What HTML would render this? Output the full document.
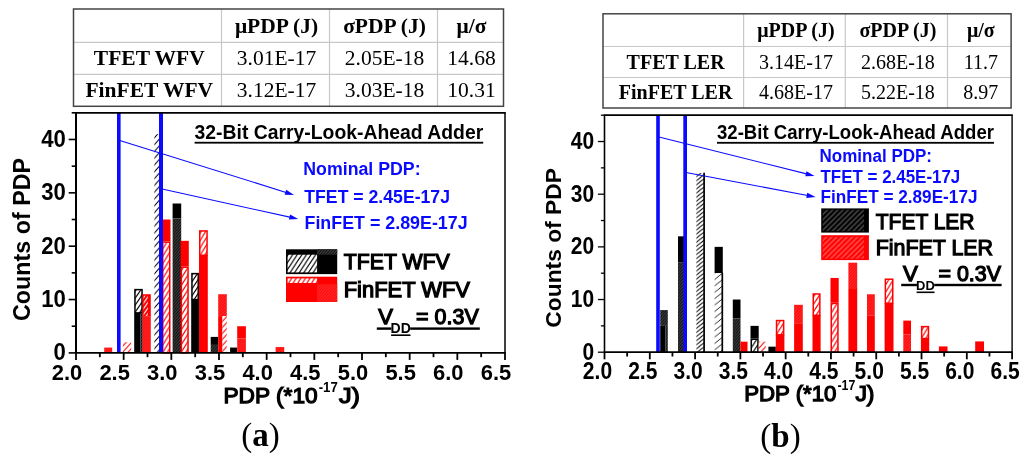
<!DOCTYPE html>
<html lang="en"><head><meta charset="utf-8"><title>PDP histograms</title>
<style>
html,body{margin:0;padding:0;background:#fff;}
body{width:1024px;height:463px;overflow:hidden;}
svg{display:block;}
.s{font-family:"Liberation Sans", Arial, sans-serif;}
.t{font-family:"Liberation Serif", "Times New Roman", serif;}
.b{font-weight:bold;}
.m{font-weight:normal;stroke:#000;stroke-width:1.25px;stroke-linejoin:miter;}
</style></head><body>
<svg width="1024" height="463" viewBox="0 0 1024 463">
<defs>
<pattern id="hbk" patternUnits="userSpaceOnUse" width="4.6" height="7">
<rect x="0" y="0" width="4.6" height="7" fill="#fff"/>
<path d="M-4.6,7 L4.6,-7 M-4.6,14 L9.2,-7 M0,14 L9.2,0" stroke="#000" stroke-width="1.2" fill="none"/>
</pattern>
<pattern id="hbr" patternUnits="userSpaceOnUse" width="4.6" height="7.4">
<rect x="0" y="0" width="4.6" height="7.4" fill="#fff"/>
<path d="M-4.6,7.4 L4.6,-7.4 M-4.6,14.8 L9.2,-7.4 M0,14.8 L9.2,0" stroke="#ff0000" stroke-width="1.15" fill="none"/>
</pattern>
<pattern id="hwr" patternUnits="userSpaceOnUse" width="4" height="5.6">
<rect x="0" y="0" width="4" height="5.6" fill="#ff0000"/>
<path d="M-4,5.6 L4,-5.6 M-4,11.2 L8,-5.6 M0,11.2 L8,0" stroke="#fff" stroke-width="1.1" fill="none"/>
</pattern>
<pattern id="hnk" patternUnits="userSpaceOnUse" width="6" height="6.8">
<rect x="0" y="0" width="6" height="6.8" fill="#fff"/>
<path d="M-6,6.8 L6,-6.8 M-6,13.6 L12,-6.8 M0,13.6 L12,0" stroke="#000" stroke-width="1.05" fill="none"/>
</pattern>
<pattern id="hrk" patternUnits="userSpaceOnUse" width="5.2" height="4.1">
<rect x="0" y="0" width="5.2" height="4.1" fill="#fff"/>
<path d="M-5.2,4.1 L5.2,-4.1 M-5.2,8.2 L10.4,-4.1 M0,8.2 L10.4,0" stroke="#000" stroke-width="1" fill="none"/>
</pattern>
<pattern id="hsk" patternUnits="userSpaceOnUse" width="8" height="6.4">
<rect x="0" y="0" width="8" height="6.4" fill="#fff"/>
<path d="M-8,6.4 L8,-6.4 M-8,12.8 L16,-6.4 M0,12.8 L16,0" stroke="#000" stroke-width="0.85" fill="none"/>
</pattern>
<pattern id="hnr" patternUnits="userSpaceOnUse" width="5.5" height="6">
<rect x="0" y="0" width="5.5" height="6" fill="#fff"/>
<path d="M-5.5,6 L5.5,-6 M-5.5,12 L11,-6 M0,12 L11,0" stroke="#ff0000" stroke-width="1.1" fill="none"/>
</pattern>
<pattern id="hdk" patternUnits="userSpaceOnUse" width="2.8" height="3.2">
<rect x="0" y="0" width="2.8" height="3.2" fill="#4c4c4c"/>
<path d="M-2.8,3.2 L2.8,-3.2 M-2.8,6.4 L5.6,-3.2 M0,6.4 L5.6,0" stroke="#000" stroke-width="1" fill="none"/>
</pattern>
<pattern id="hdr" patternUnits="userSpaceOnUse" width="2.8" height="3.2">
<rect x="0" y="0" width="2.8" height="3.2" fill="#ff3030"/>
<path d="M-2.8,3.2 L2.8,-3.2 M-2.8,6.4 L5.6,-3.2 M0,6.4 L5.6,0" stroke="#ff0000" stroke-width="1" fill="none"/>
</pattern>
<pattern id="lgk" patternUnits="userSpaceOnUse" width="5.2" height="5.2">
<rect x="0" y="0" width="5.2" height="5.2" fill="#444444"/>
<path d="M-5.2,5.2 L5.2,-5.2 M-5.2,10.4 L10.4,-5.2 M0,10.4 L10.4,0" stroke="#000" stroke-width="2" fill="none"/>
</pattern>
<pattern id="lgr" patternUnits="userSpaceOnUse" width="5.2" height="5.2">
<rect x="0" y="0" width="5.2" height="5.2" fill="#ff4a4a"/>
<path d="M-5.2,5.2 L5.2,-5.2 M-5.2,10.4 L10.4,-5.2 M0,10.4 L10.4,0" stroke="#ff0000" stroke-width="2" fill="none"/>
</pattern>
</defs>
<rect x="0" y="0" width="1024" height="463" fill="#fff"/>
<line x1="221.5" y1="9" x2="221.5" y2="106.3" stroke="#c8c8c8" stroke-width="1.2"/>
<line x1="329.5" y1="9" x2="329.5" y2="106.3" stroke="#c8c8c8" stroke-width="1.2"/>
<line x1="437.5" y1="9" x2="437.5" y2="106.3" stroke="#c8c8c8" stroke-width="1.2"/>
<line x1="73.5" y1="42.3" x2="503.5" y2="42.3" stroke="#c8c8c8" stroke-width="1.2"/>
<line x1="73.5" y1="74.3" x2="503.5" y2="74.3" stroke="#c8c8c8" stroke-width="1.2"/>
<rect x="73.5" y="9" width="430" height="97.3" fill="none" stroke="#444" stroke-width="1.5"/>
<text class="t b" x="276.5" y="32.745" font-size="21.5" text-anchor="middle">μPDP (J)</text>
<text class="t b" x="384.5" y="32.745" font-size="21.5" text-anchor="middle">σPDP (J)</text>
<text class="t b" x="471.5" y="32.745" font-size="21.5" text-anchor="middle">μ/σ</text>
<text class="t b" x="149.3" y="65.395" font-size="21.5" text-anchor="middle">TFET WFV</text>
<text class="t" x="276.5" y="65.395" font-size="21.5" text-anchor="middle">3.01E-17</text>
<text class="t" x="384.5" y="65.395" font-size="21.5" text-anchor="middle">2.05E-18</text>
<text class="t" x="471.5" y="65.395" font-size="21.5" text-anchor="middle">14.68</text>
<text class="t b" x="149.3" y="97.395" font-size="21.5" text-anchor="middle">FinFET WFV</text>
<text class="t" x="276.5" y="97.395" font-size="21.5" text-anchor="middle">3.12E-17</text>
<text class="t" x="384.5" y="97.395" font-size="21.5" text-anchor="middle">3.03E-18</text>
<text class="t" x="471.5" y="97.395" font-size="21.5" text-anchor="middle">10.31</text>
<rect x="104.2" y="347.564" width="8" height="5.33556" fill="url(#hdr)"/>
<rect x="122.8" y="342.229" width="8.4" height="10.6711" fill="url(#hnr)"/>
<rect x="134.95" y="289.623" width="7.1" height="23.26" fill="url(#hbk)" stroke="#000" stroke-width="1.5"/>
<rect x="134.2" y="312.883" width="6.4" height="40.0167" fill="#000"/>
<rect x="140.6" y="312.883" width="2.2" height="40.0167" fill="url(#hdk)"/>
<rect x="142.4" y="294.209" width="8.4" height="21.8758" fill="#ff0000"/>
<rect x="143.6" y="295.709" width="4.2" height="20.3758" fill="url(#hwr)"/>
<rect x="142.4" y="316.085" width="8.4" height="36.8153" fill="url(#hdr)"/>
<rect x="154.4" y="134.142" width="6" height="218.758" fill="url(#hnk)"/>
<rect x="162" y="219.511" width="8.5" height="21.8758" fill="#ff0000"/>
<rect x="162.75" y="242.137" width="7" height="110.763" fill="url(#hbr)" stroke="#ff0000" stroke-width="1.5"/>
<rect x="172.6" y="203.504" width="8.6" height="14.9396" fill="#000"/>
<rect x="172.6" y="218.444" width="8.6" height="134.456" fill="url(#hdk)"/>
<rect x="180.6" y="240.853" width="8.2" height="25.6107" fill="#ff0000"/>
<rect x="181.35" y="267.214" width="6.7" height="85.686" fill="url(#hbr)" stroke="#ff0000" stroke-width="1.5"/>
<rect x="191.95" y="273.617" width="6.3" height="25.9278" fill="url(#hbk)" stroke="#000" stroke-width="1.5"/>
<rect x="191.2" y="299.544" width="7.8" height="53.3556" fill="#000"/>
<rect x="199.75" y="230.932" width="7.3" height="24.3271" fill="url(#hbr)" stroke="#ff0000" stroke-width="1.5"/>
<rect x="199" y="255.259" width="8.8" height="97.6407" fill="#ff0000"/>
<rect x="210.7" y="336.893" width="7.5" height="8.00333" fill="#000"/>
<rect x="210.7" y="344.897" width="7.5" height="8.00333" fill="url(#hdk)"/>
<rect x="218.2" y="294.209" width="8.6" height="21.8758" fill="url(#hdr)"/>
<rect x="218.2" y="316.085" width="4.3" height="36.8153" fill="#ff0000"/>
<rect x="222.5" y="316.085" width="4.3" height="36.8153" fill="url(#hnr)"/>
<rect x="230.1" y="347.564" width="7.1" height="5.33556" fill="#000"/>
<rect x="237.2" y="326.222" width="8.7" height="12.2718" fill="#ff0000"/>
<rect x="237.2" y="338.494" width="8.7" height="14.406" fill="url(#hdr)"/>
<rect x="275.6" y="347.031" width="8.6" height="5.86911" fill="url(#hdr)"/>
<rect x="117" y="112.8" width="3.6" height="240.1" fill="#0a0aff"/>
<rect x="159" y="112.8" width="4" height="240.1" fill="#0a0aff"/>
<line x1="119" y1="140.2" x2="290" y2="193.65" stroke="#0a0aff" stroke-width="1.1"/>
<polygon points="294,194.9 284.634,194.697 286.186,189.733" fill="#0a0aff"/>
<line x1="161" y1="188.8" x2="294.3" y2="218.12" stroke="#0a0aff" stroke-width="1.1"/>
<polygon points="298.3,219 288.952,219.606 290.069,214.527" fill="#0a0aff"/>
<line x1="75" y1="112.8" x2="505.75" y2="112.8" stroke="#000" stroke-width="1.7"/>
<line x1="505" y1="112.8" x2="505" y2="352.9" stroke="#000" stroke-width="1.5"/>
<line x1="75" y1="352.9" x2="505.75" y2="352.9" stroke="#000" stroke-width="1.8"/>
<line x1="76" y1="112.8" x2="76" y2="352.9" stroke="#000" stroke-width="2"/>
<line x1="76" y1="352.9" x2="76" y2="359.9" stroke="#000" stroke-width="1.8"/>
<text class="s b" x="51.7587" y="380.4" font-size="21.5" textLength="30.4827" lengthAdjust="spacingAndGlyphs">2.0</text>
<line x1="99.8333" y1="352.9" x2="99.8333" y2="357.2" stroke="#000" stroke-width="1.8"/>
<line x1="123.667" y1="352.9" x2="123.667" y2="359.9" stroke="#000" stroke-width="1.8"/>
<text class="s b" x="99.4253" y="380.4" font-size="21.5" textLength="30.4827" lengthAdjust="spacingAndGlyphs">2.5</text>
<line x1="147.5" y1="352.9" x2="147.5" y2="357.2" stroke="#000" stroke-width="1.8"/>
<line x1="171.333" y1="352.9" x2="171.333" y2="359.9" stroke="#000" stroke-width="1.8"/>
<text class="s b" x="147.092" y="380.4" font-size="21.5" textLength="30.4827" lengthAdjust="spacingAndGlyphs">3.0</text>
<line x1="195.167" y1="352.9" x2="195.167" y2="357.2" stroke="#000" stroke-width="1.8"/>
<line x1="219" y1="352.9" x2="219" y2="359.9" stroke="#000" stroke-width="1.8"/>
<text class="s b" x="194.759" y="380.4" font-size="21.5" textLength="30.4827" lengthAdjust="spacingAndGlyphs">3.5</text>
<line x1="242.833" y1="352.9" x2="242.833" y2="357.2" stroke="#000" stroke-width="1.8"/>
<line x1="266.667" y1="352.9" x2="266.667" y2="359.9" stroke="#000" stroke-width="1.8"/>
<text class="s b" x="242.425" y="380.4" font-size="21.5" textLength="30.4827" lengthAdjust="spacingAndGlyphs">4.0</text>
<line x1="290.5" y1="352.9" x2="290.5" y2="357.2" stroke="#000" stroke-width="1.8"/>
<line x1="314.333" y1="352.9" x2="314.333" y2="359.9" stroke="#000" stroke-width="1.8"/>
<text class="s b" x="290.092" y="380.4" font-size="21.5" textLength="30.4827" lengthAdjust="spacingAndGlyphs">4.5</text>
<line x1="338.167" y1="352.9" x2="338.167" y2="357.2" stroke="#000" stroke-width="1.8"/>
<line x1="362" y1="352.9" x2="362" y2="359.9" stroke="#000" stroke-width="1.8"/>
<text class="s b" x="337.759" y="380.4" font-size="21.5" textLength="30.4827" lengthAdjust="spacingAndGlyphs">5.0</text>
<line x1="385.833" y1="352.9" x2="385.833" y2="357.2" stroke="#000" stroke-width="1.8"/>
<line x1="409.667" y1="352.9" x2="409.667" y2="359.9" stroke="#000" stroke-width="1.8"/>
<text class="s b" x="385.425" y="380.4" font-size="21.5" textLength="30.4827" lengthAdjust="spacingAndGlyphs">5.5</text>
<line x1="433.5" y1="352.9" x2="433.5" y2="357.2" stroke="#000" stroke-width="1.8"/>
<line x1="457.333" y1="352.9" x2="457.333" y2="359.9" stroke="#000" stroke-width="1.8"/>
<text class="s b" x="433.092" y="380.4" font-size="21.5" textLength="30.4827" lengthAdjust="spacingAndGlyphs">6.0</text>
<line x1="481.167" y1="352.9" x2="481.167" y2="357.2" stroke="#000" stroke-width="1.8"/>
<line x1="505" y1="352.9" x2="505" y2="359.9" stroke="#000" stroke-width="1.8"/>
<text class="s b" x="480.759" y="380.4" font-size="21.5" textLength="30.4827" lengthAdjust="spacingAndGlyphs">6.5</text>
<line x1="68.7" y1="352.9" x2="76" y2="352.9" stroke="#000" stroke-width="1.6"/>
<text class="s b" x="53.5951" y="360.492" font-size="24.7" textLength="12.3049" lengthAdjust="spacingAndGlyphs">0</text>
<line x1="71.7" y1="326.222" x2="76" y2="326.222" stroke="#000" stroke-width="1.6"/>
<line x1="68.7" y1="299.544" x2="76" y2="299.544" stroke="#000" stroke-width="1.6"/>
<text class="s b" x="41.2901" y="307.136" font-size="24.7" textLength="24.6099" lengthAdjust="spacingAndGlyphs">10</text>
<line x1="71.7" y1="272.867" x2="76" y2="272.867" stroke="#000" stroke-width="1.6"/>
<line x1="68.7" y1="246.189" x2="76" y2="246.189" stroke="#000" stroke-width="1.6"/>
<text class="s b" x="41.2901" y="253.781" font-size="24.7" textLength="24.6099" lengthAdjust="spacingAndGlyphs">20</text>
<line x1="71.7" y1="219.511" x2="76" y2="219.511" stroke="#000" stroke-width="1.6"/>
<line x1="68.7" y1="192.833" x2="76" y2="192.833" stroke="#000" stroke-width="1.6"/>
<text class="s b" x="41.2901" y="200.425" font-size="24.7" textLength="24.6099" lengthAdjust="spacingAndGlyphs">30</text>
<line x1="71.7" y1="166.156" x2="76" y2="166.156" stroke="#000" stroke-width="1.6"/>
<line x1="68.7" y1="139.478" x2="76" y2="139.478" stroke="#000" stroke-width="1.6"/>
<text class="s b" x="41.2901" y="147.07" font-size="24.7" textLength="24.6099" lengthAdjust="spacingAndGlyphs">40</text>
<line x1="71.7" y1="112.8" x2="76" y2="112.8" stroke="#000" stroke-width="1.6"/>
<text class="s b" transform="translate(29.5,239.5) rotate(-90)" font-size="23.3" text-anchor="middle">Counts of PDP</text>
<text class="s m" x="223.5" y="402.8" font-size="22" textLength="94.1" lengthAdjust="spacingAndGlyphs">PDP (*10</text>
<text class="s b" x="318.7" y="391.8" font-size="14.52" textLength="19.1" lengthAdjust="spacingAndGlyphs">-17</text>
<text class="s m" x="338.9" y="402.8" font-size="22" textLength="21" lengthAdjust="spacingAndGlyphs">J)</text>
<text class="s b" x="194.6" y="138.6" font-size="19.4" textLength="288.6" lengthAdjust="spacingAndGlyphs">32-Bit Carry-Look-Ahead Adder</text>
<rect x="194.6" y="141.8" width="288.6" height="1.8" fill="#000"/>
<text class="s b" x="303.3" y="175" font-size="18" fill="#0a0aff" textLength="117.3" lengthAdjust="spacingAndGlyphs">Nominal PDP:</text>
<text class="s b" x="304.3" y="203.4" font-size="18" fill="#0a0aff" textLength="145.7" lengthAdjust="spacingAndGlyphs">TFET = 2.45E-17J</text>
<text class="s b" x="304.5" y="229.3" font-size="18" fill="#0a0aff" textLength="163.1" lengthAdjust="spacingAndGlyphs">FinFET = 2.89E-17J</text>
<text class="s m" x="343.7" y="268.6" font-size="21.6" textLength="106" lengthAdjust="spacingAndGlyphs">TFET WFV</text>
<text class="s m" x="343.7" y="296.5" font-size="21.6" textLength="126.3" lengthAdjust="spacingAndGlyphs">FinFET WFV</text>
<text class="s m" x="378.3" y="324.1" font-size="22">V</text>
<text class="s b" x="390.6" y="332.7" font-size="13.7119" textLength="20.2" lengthAdjust="spacingAndGlyphs">DD</text>
<text class="s m" x="416.1" y="324.1" font-size="22" textLength="62.6" lengthAdjust="spacingAndGlyphs">= 0.3V</text>
<rect x="376.8" y="327.4" width="14.6" height="2.4" fill="#000"/>
<rect x="391.1" y="334.4" width="19.4" height="1.6" fill="#000"/>
<rect x="410.2" y="327.4" width="69.6" height="2.4" fill="#000"/>
<text class="t" x="260.5" y="446.3" font-size="33" text-anchor="middle">(<tspan class="b">a</tspan>)</text>
<rect x="286" y="249.3" width="51.2" height="24.8" fill="#000"/>
<rect x="287.6" y="254.7" width="29.5" height="17.7" fill="url(#hbk)"/>
<rect x="317.1" y="249.3" width="20.1" height="5.4" fill="url(#hdk)"/>
<rect x="286" y="276.7" width="51.2" height="25.3" fill="#ff0000"/>
<rect x="287.6" y="278.4" width="29.5" height="4.6" fill="url(#hbr)"/>
<rect x="317.1" y="284.3" width="20.1" height="17.7" fill="url(#hdr)"/>
<line x1="743.6" y1="13.8" x2="743.6" y2="108" stroke="#c8c8c8" stroke-width="1.2"/>
<line x1="845.3" y1="13.8" x2="845.3" y2="108" stroke="#c8c8c8" stroke-width="1.2"/>
<line x1="947.5" y1="13.8" x2="947.5" y2="108" stroke="#c8c8c8" stroke-width="1.2"/>
<line x1="603" y1="46.5" x2="1011.1" y2="46.5" stroke="#c8c8c8" stroke-width="1.2"/>
<line x1="603" y1="77.5" x2="1011.1" y2="77.5" stroke="#c8c8c8" stroke-width="1.2"/>
<rect x="603" y="13.8" width="408.1" height="94.2" fill="none" stroke="#444" stroke-width="1.5"/>
<text class="t b" x="795.95" y="36.75" font-size="20" text-anchor="middle">μPDP (J)</text>
<text class="t b" x="897.9" y="36.75" font-size="20" text-anchor="middle">σPDP (J)</text>
<text class="t b" x="980.8" y="36.75" font-size="20" text-anchor="middle">μ/σ</text>
<text class="t b" x="675.6" y="68.6" font-size="20" text-anchor="middle">TFET LER</text>
<text class="t" x="795.95" y="68.6" font-size="20" text-anchor="middle">3.14E-17</text>
<text class="t" x="897.9" y="68.6" font-size="20" text-anchor="middle">2.68E-18</text>
<text class="t" x="980.8" y="68.6" font-size="20" text-anchor="middle">11.7</text>
<text class="t b" x="675.6" y="99.35" font-size="20" text-anchor="middle">FinFET LER</text>
<text class="t" x="795.95" y="99.35" font-size="20" text-anchor="middle">4.68E-17</text>
<text class="t" x="897.9" y="99.35" font-size="20" text-anchor="middle">5.22E-18</text>
<text class="t" x="980.8" y="99.35" font-size="20" text-anchor="middle">8.97</text>
<rect x="660.2" y="310.067" width="7.6" height="15.8" fill="url(#hdk)"/>
<rect x="660.2" y="325.867" width="5.4" height="26.3333" fill="#000"/>
<rect x="665.6" y="325.867" width="2.2" height="26.3333" fill="url(#hdk)"/>
<rect x="678" y="236.333" width="8" height="26.3333" fill="#000"/>
<rect x="678" y="262.667" width="8" height="89.5333" fill="url(#hdk)"/>
<rect x="696.4" y="173.133" width="8.2" height="179.067" fill="url(#hrk)"/>
<line x1="704.1" y1="172.633" x2="704.1" y2="352.2" stroke="#000" stroke-width="1.7"/>
<rect x="714.6" y="246.867" width="8.2" height="26.3333" fill="#000"/>
<rect x="714.6" y="273.2" width="8.2" height="79" fill="url(#hsk)"/>
<line x1="722.3" y1="272.7" x2="722.3" y2="352.2" stroke="#000" stroke-width="1.7"/>
<rect x="732.8" y="299.533" width="7.7" height="18.96" fill="#000"/>
<rect x="732.8" y="318.493" width="7.7" height="33.7067" fill="url(#hdk)"/>
<rect x="740.5" y="341.667" width="7" height="10.5333" fill="#ff0000"/>
<rect x="750.5" y="325.867" width="8.2" height="12.64" fill="#000"/>
<rect x="751.25" y="339.257" width="6.7" height="12.9433" fill="url(#hbk)" stroke="#000" stroke-width="1.5"/>
<rect x="758.7" y="341.667" width="7.1" height="10.5333" fill="url(#hnr)"/>
<rect x="768.4" y="346.67" width="7.4" height="5.53" fill="#000"/>
<rect x="776.55" y="320.56" width="7.1" height="14.26" fill="url(#hbr)" stroke="#ff0000" stroke-width="1.5"/>
<rect x="775.8" y="334.82" width="8.6" height="17.38" fill="#ff0000"/>
<rect x="794.1" y="304.8" width="8.7" height="18.4333" fill="url(#hdr)"/>
<rect x="794.1" y="323.233" width="8.7" height="28.9667" fill="#ff0000"/>
<rect x="813.25" y="293.963" width="6.6" height="21.37" fill="url(#hbr)" stroke="#ff0000" stroke-width="1.5"/>
<rect x="812.5" y="315.333" width="8.1" height="36.8667" fill="#ff0000"/>
<rect x="830.5" y="277.94" width="8.2" height="24.7533" fill="#ff0000"/>
<rect x="831.25" y="303.443" width="6.7" height="48.7567" fill="url(#hbr)" stroke="#ff0000" stroke-width="1.5"/>
<rect x="848.4" y="262.667" width="8.8" height="26.3333" fill="url(#hdr)"/>
<rect x="848.4" y="289" width="8.8" height="63.2" fill="#ff0000"/>
<rect x="867" y="294.267" width="7.8" height="21.0667" fill="url(#hdr)"/>
<rect x="867" y="315.333" width="7.8" height="36.8667" fill="#ff0000"/>
<rect x="885.35" y="279.217" width="7.4" height="24.0033" fill="url(#hbr)" stroke="#ff0000" stroke-width="1.5"/>
<rect x="884.6" y="303.22" width="8.9" height="48.98" fill="#ff0000"/>
<rect x="903.3" y="320.6" width="7.7" height="13.6933" fill="#ff0000"/>
<rect x="903.3" y="334.293" width="7.7" height="17.9067" fill="url(#hdr)"/>
<rect x="921.65" y="326.617" width="6.8" height="11.89" fill="url(#hbr)" stroke="#ff0000" stroke-width="1.5"/>
<rect x="920.9" y="338.507" width="8.3" height="13.6933" fill="#ff0000"/>
<rect x="938.9" y="346.407" width="8.6" height="5.79333" fill="#ff0000"/>
<rect x="975.2" y="341.403" width="8.8" height="10.7967" fill="#ff0000"/>
<rect x="656.2" y="115.2" width="3.6" height="237" fill="#0a0aff"/>
<rect x="683.3" y="115.2" width="3.7" height="237" fill="#0a0aff"/>
<line x1="658" y1="136.8" x2="810.6" y2="174.901" stroke="#0a0aff" stroke-width="1.1"/>
<polygon points="814.6,175.9 805.238,176.242 806.498,171.197" fill="#0a0aff"/>
<line x1="686" y1="172.5" x2="811.6" y2="196.244" stroke="#0a0aff" stroke-width="1.1"/>
<polygon points="815.6,197 806.274,197.883 807.24,192.773" fill="#0a0aff"/>
<line x1="603.7" y1="115.2" x2="1012.8" y2="115.2" stroke="#000" stroke-width="1.7"/>
<line x1="1012.1" y1="115.2" x2="1012.1" y2="352.2" stroke="#000" stroke-width="1.4"/>
<line x1="603.7" y1="352.2" x2="1012.8" y2="352.2" stroke="#000" stroke-width="1.7"/>
<line x1="604.5" y1="115.2" x2="604.5" y2="352.2" stroke="#000" stroke-width="1.6"/>
<line x1="604.5" y1="352.2" x2="604.5" y2="359.3" stroke="#000" stroke-width="1.8"/>
<text class="s b" x="582.874" y="379" font-size="23.1" textLength="29.2513" lengthAdjust="spacingAndGlyphs">2.0</text>
<line x1="627.144" y1="352.2" x2="627.144" y2="356.5" stroke="#000" stroke-width="1.8"/>
<line x1="649.789" y1="352.2" x2="649.789" y2="359.3" stroke="#000" stroke-width="1.8"/>
<text class="s b" x="628.163" y="379" font-size="23.1" textLength="29.2513" lengthAdjust="spacingAndGlyphs">2.5</text>
<line x1="672.433" y1="352.2" x2="672.433" y2="356.5" stroke="#000" stroke-width="1.8"/>
<line x1="695.078" y1="352.2" x2="695.078" y2="359.3" stroke="#000" stroke-width="1.8"/>
<text class="s b" x="673.452" y="379" font-size="23.1" textLength="29.2513" lengthAdjust="spacingAndGlyphs">3.0</text>
<line x1="717.722" y1="352.2" x2="717.722" y2="356.5" stroke="#000" stroke-width="1.8"/>
<line x1="740.367" y1="352.2" x2="740.367" y2="359.3" stroke="#000" stroke-width="1.8"/>
<text class="s b" x="718.741" y="379" font-size="23.1" textLength="29.2513" lengthAdjust="spacingAndGlyphs">3.5</text>
<line x1="763.011" y1="352.2" x2="763.011" y2="356.5" stroke="#000" stroke-width="1.8"/>
<line x1="785.656" y1="352.2" x2="785.656" y2="359.3" stroke="#000" stroke-width="1.8"/>
<text class="s b" x="764.03" y="379" font-size="23.1" textLength="29.2513" lengthAdjust="spacingAndGlyphs">4.0</text>
<line x1="808.3" y1="352.2" x2="808.3" y2="356.5" stroke="#000" stroke-width="1.8"/>
<line x1="830.944" y1="352.2" x2="830.944" y2="359.3" stroke="#000" stroke-width="1.8"/>
<text class="s b" x="809.319" y="379" font-size="23.1" textLength="29.2513" lengthAdjust="spacingAndGlyphs">4.5</text>
<line x1="853.589" y1="352.2" x2="853.589" y2="356.5" stroke="#000" stroke-width="1.8"/>
<line x1="876.233" y1="352.2" x2="876.233" y2="359.3" stroke="#000" stroke-width="1.8"/>
<text class="s b" x="854.608" y="379" font-size="23.1" textLength="29.2513" lengthAdjust="spacingAndGlyphs">5.0</text>
<line x1="898.878" y1="352.2" x2="898.878" y2="356.5" stroke="#000" stroke-width="1.8"/>
<line x1="921.522" y1="352.2" x2="921.522" y2="359.3" stroke="#000" stroke-width="1.8"/>
<text class="s b" x="899.897" y="379" font-size="23.1" textLength="29.2513" lengthAdjust="spacingAndGlyphs">5.5</text>
<line x1="944.167" y1="352.2" x2="944.167" y2="356.5" stroke="#000" stroke-width="1.8"/>
<line x1="966.811" y1="352.2" x2="966.811" y2="359.3" stroke="#000" stroke-width="1.8"/>
<text class="s b" x="945.185" y="379" font-size="23.1" textLength="29.2513" lengthAdjust="spacingAndGlyphs">6.0</text>
<line x1="989.456" y1="352.2" x2="989.456" y2="356.5" stroke="#000" stroke-width="1.8"/>
<line x1="1012.1" y1="352.2" x2="1012.1" y2="359.3" stroke="#000" stroke-width="1.8"/>
<text class="s b" x="990.474" y="379" font-size="23.1" textLength="29.2513" lengthAdjust="spacingAndGlyphs">6.5</text>
<line x1="597.9" y1="352.2" x2="604.5" y2="352.2" stroke="#000" stroke-width="1.3"/>
<text class="s b" x="582.533" y="359.756" font-size="24.6" textLength="11.667" lengthAdjust="spacingAndGlyphs">0</text>
<line x1="600.9" y1="325.867" x2="604.5" y2="325.867" stroke="#000" stroke-width="1.3"/>
<line x1="597.9" y1="299.533" x2="604.5" y2="299.533" stroke="#000" stroke-width="1.3"/>
<text class="s b" x="570.866" y="307.089" font-size="24.6" textLength="23.334" lengthAdjust="spacingAndGlyphs">10</text>
<line x1="600.9" y1="273.2" x2="604.5" y2="273.2" stroke="#000" stroke-width="1.3"/>
<line x1="597.9" y1="246.867" x2="604.5" y2="246.867" stroke="#000" stroke-width="1.3"/>
<text class="s b" x="570.866" y="254.423" font-size="24.6" textLength="23.334" lengthAdjust="spacingAndGlyphs">20</text>
<line x1="600.9" y1="220.533" x2="604.5" y2="220.533" stroke="#000" stroke-width="1.3"/>
<line x1="597.9" y1="194.2" x2="604.5" y2="194.2" stroke="#000" stroke-width="1.3"/>
<text class="s b" x="570.866" y="201.756" font-size="24.6" textLength="23.334" lengthAdjust="spacingAndGlyphs">30</text>
<line x1="600.9" y1="167.867" x2="604.5" y2="167.867" stroke="#000" stroke-width="1.3"/>
<line x1="597.9" y1="141.533" x2="604.5" y2="141.533" stroke="#000" stroke-width="1.3"/>
<text class="s b" x="570.866" y="149.089" font-size="24.6" textLength="23.334" lengthAdjust="spacingAndGlyphs">40</text>
<line x1="600.9" y1="115.2" x2="604.5" y2="115.2" stroke="#000" stroke-width="1.3"/>
<text class="s b" transform="translate(560.6,247.9) rotate(-90)" font-size="22.8" text-anchor="middle">Counts of PDP</text>
<text class="s m" x="744.2" y="401.2" font-size="21.6" textLength="92.2" lengthAdjust="spacingAndGlyphs">PDP (*10</text>
<text class="s b" x="837.5" y="390.4" font-size="14.256" textLength="17.9" lengthAdjust="spacingAndGlyphs">-17</text>
<text class="s m" x="855.4" y="401.2" font-size="21.6" textLength="19.1" lengthAdjust="spacingAndGlyphs">J)</text>
<text class="s b" x="717" y="138.7" font-size="19.4" textLength="277" lengthAdjust="spacingAndGlyphs">32-Bit Carry-Look-Ahead Adder</text>
<rect x="717" y="141.9" width="277" height="1.8" fill="#000"/>
<text class="s b" x="819.6" y="162" font-size="18" fill="#0a0aff" textLength="112.4" lengthAdjust="spacingAndGlyphs">Nominal PDP:</text>
<text class="s b" x="820.5" y="182.6" font-size="18" fill="#0a0aff" textLength="139.8" lengthAdjust="spacingAndGlyphs">TFET = 2.45E-17J</text>
<text class="s b" x="820.5" y="203" font-size="18" fill="#0a0aff" textLength="157" lengthAdjust="spacingAndGlyphs">FinFET = 2.89E-17J</text>
<text class="s m" x="875.8" y="228.8" font-size="22.2" textLength="98.7" lengthAdjust="spacingAndGlyphs">TFET LER</text>
<text class="s m" x="875.8" y="255.4" font-size="22.2" textLength="117.2" lengthAdjust="spacingAndGlyphs">FinFET LER</text>
<text class="s m" x="903" y="280.5" font-size="22.2">V</text>
<text class="s b" x="916.1" y="289.7" font-size="12.6731" textLength="18.7" lengthAdjust="spacingAndGlyphs">DD</text>
<text class="s m" x="938.5" y="280.5" font-size="22.2" textLength="62.5" lengthAdjust="spacingAndGlyphs">= 0.3V</text>
<rect x="901.2" y="283.8" width="15.7" height="2.4" fill="#000"/>
<rect x="916.6" y="291.5" width="17.9" height="1.6" fill="#000"/>
<rect x="934.2" y="283.8" width="67.4" height="2.4" fill="#000"/>
<text class="t" x="780.5" y="446.5" font-size="33" text-anchor="middle">(<tspan class="b">b</tspan>)</text>
<rect x="821.2" y="208.4" width="47.7" height="24.2" fill="#000"/>
<rect x="822.6" y="209.8" width="41.4" height="21.4" fill="url(#lgk)"/>
<rect x="821.2" y="235.2" width="47.7" height="24.9" fill="#ff0000"/>
<rect x="822.6" y="236.8" width="41.4" height="21.8" fill="url(#lgr)"/>
</svg>
</body></html>
